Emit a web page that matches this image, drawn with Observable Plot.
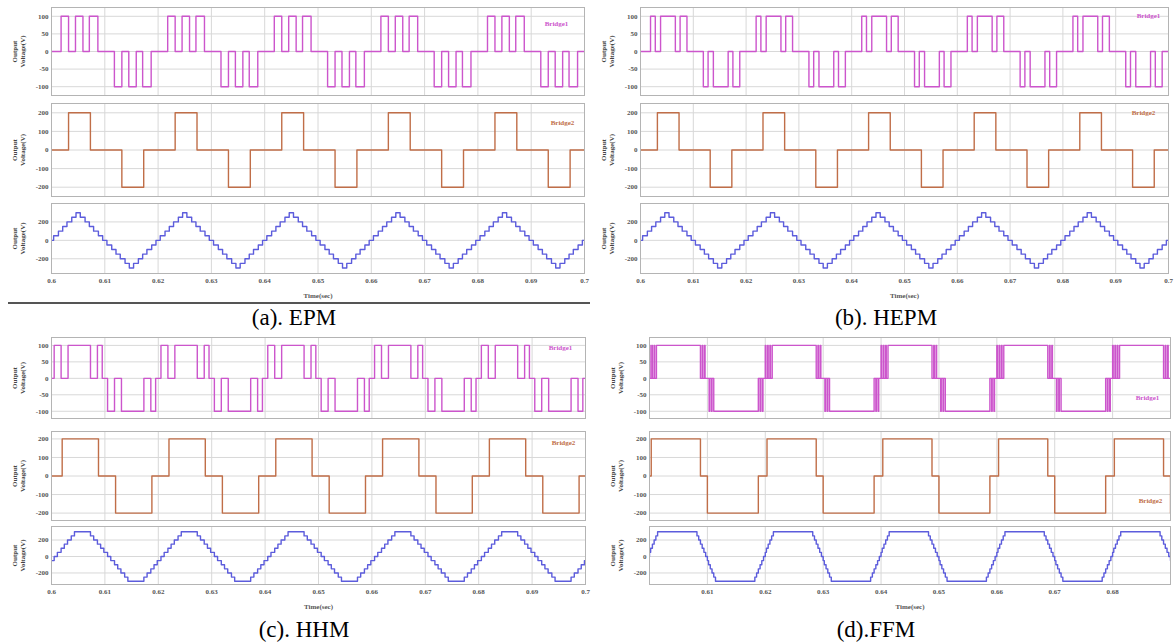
<!DOCTYPE html>
<html><head><meta charset="utf-8">
<script src="https://cdn.jsdelivr.net/npm/d3@7"></script>
<script src="https://cdn.jsdelivr.net/npm/@observablehq/plot@0.6"></script>
<style>
body{margin:0;background:#fff;}
#root{position:relative;width:1174px;height:644px;overflow:hidden;background:#fff;}
.cap{position:absolute;font-family:"Liberation Serif",serif;font-size:23px;color:#000;white-space:nowrap;transform:translate(-50%,-50%);}
.sep{position:absolute;height:0;border-top:2px solid #555;}
</style></head><body><div id="root"></div><script>
// ---- data ----
const period = 0.02, tStart = 0.6;
const xTicksFull = [0.6,0.61,0.62,0.63,0.64,0.65,0.66,0.67,0.68,0.69,0.7];
const xTicksFFM = [0.61,0.62,0.63,0.64,0.65,0.66,0.67,0.68];
const yTicksBridge1 = [-100,-50,0,50,100];
const yTicksBridge2 = [-200,-100,0,100,200];
const yTicksOutput = [-200,0,200];
const captions = ["(a). EPM","(b). HEPM","(c). HHM","(d).FFM"];
const legendNames = ["Bridge1","Bridge2"];

// one period of each waveform: switching instants (s, from 0.6 s) and levels (V)
const epmB1Times = [0,0.0018,0.0032,0.0045,0.0059,0.0071,0.0087,0.0118,0.0132,0.0145,0.0159,0.0171,0.0187];
const epmB1Levels = [0,100,0,100,0,100,0,-100,0,-100,0,-100,0];
const epmB2Times = [0,0.0032,0.0073,0.0132,0.0173];
const epmB2Levels = [0,200,0,-200,0];
const epmOutTimes = [-0.0004,0.0004,0.0013,0.0021,0.0029,0.0038,0.0046,0.0054,0.0063,0.0071,0.0079,0.0088,0.0096,0.0104,0.0113,0.0121,0.0129,0.0138,0.0146,0.0154,0.0163,0.0171,0.0179,0.0188];
const epmOutLevels = [0,50,100,150,200,250,300,250,200,150,100,50,0,-50,-100,-150,-200,-250,-300,-250,-200,-150,-100,-50];

const hepmB1Times = [0,0.0019,0.0028,0.0038,0.0066,0.0075,0.0088,0.0119,0.0128,0.0138,0.0166,0.0175,0.0188];
const hepmB1Levels = [0,100,0,100,0,100,0,-100,0,-100,0,-100,0];
const hepmB2Times = [0,0.0032,0.0073,0.0132,0.0173];
const hepmB2Levels = [0,200,0,-200,0];
const hepmOutTimes = [-0.0004,0.0004,0.0013,0.0021,0.0029,0.0038,0.0046,0.0054,0.0063,0.0071,0.0079,0.0088,0.0096,0.0104,0.0113,0.0121,0.0129,0.0138,0.0146,0.0154,0.0163,0.0171,0.0179,0.0188];
const hepmOutLevels = [0,50,100,150,200,250,300,250,200,150,100,50,0,-50,-100,-150,-200,-250,-300,-250,-200,-150,-100,-50];

const hhmB1Times = [0,0.0005,0.0018,0.0031,0.0073,0.0086,0.0095,0.0105,0.0118,0.0131,0.0173,0.0186,0.0195];
const hhmB1Levels = [0,100,0,100,0,100,0,-100,0,-100,0,-100,0];
const hhmB2Times = [0,0.0020,0.0088,0.0120,0.0188];
const hhmB2Levels = [0,200,0,-200,0];
const hhmOutTimes = [0.0043,0.0073,0.0079,0.0086,0.0092,0.0098,0.0105,0.0111,0.0118,0.0124,0.0130,0.0137,0.0143,0.0173,0.0179,0.0186,0.0192,0.0198,0.0205,0.0211,0.0218,0.0224,0.0230,0.0237];
const hhmOutLevels = [300,250,200,150,100,50,0,-50,-100,-150,-200,-250,-300,-250,-200,-150,-100,-50,0,50,100,150,200,250];

const ffmB1Times = [0,0.0001,0.0004,0.0005,0.0008,0.0009,0.0012,0.0088,0.0091,0.0092,0.0095,0.0096,0.0103,0.0104,0.0107,0.0108,0.0111,0.0188,0.0191,0.0192,0.0195,0.0196];
const ffmB1Levels = [100,0,100,0,100,0,100,0,100,0,100,0,-100,0,-100,0,-100,0,-100,0,-100,0];
const ffmB2Times = [0,0.0003,0.0088,0.0100,0.0188];
const ffmB2Levels = [0,200,0,-200,0];
const ffmOutTimes = [-0.0018,-0.0015,-0.0012,-0.0009,-0.0006,-0.0003,0.0000,0.0002,0.0005,0.0008,0.0011,0.0014,0.0082,0.0085,0.0088,0.0091,0.0094,0.0097,0.0100,0.0102,0.0105,0.0108,0.0111,0.0114];
const ffmOutLevels = [-250,-200,-150,-100,-50,0,50,100,150,200,250,300,250,200,150,100,50,0,-50,-100,-150,-200,-250,-300];

// ---- helpers ----
const root = document.getElementById("root");
function periodic(times, levels, tEnd) {
  const pts = [];
  for (let k = -1; tStart + k * period < tEnd + period; k++)
    times.forEach((t, i) => pts.push({t: tStart + k * period + t, v: levels[i]}));
  return pts;
}
const C1 = "#cc55cc", C2 = "#c06e48", C3 = "#5c5cdc";
const FONT = "Liberation Serif, Times New Roman, serif";

function sub(o) {
  const mL = 60, mR = 6, mT = 2, mB = o.showX ? 34 : 2;
  const marks = [
    Plot.gridX(o.xGrid, {stroke: "#d8d8d8", strokeOpacity: 1}),
    Plot.gridY(o.yTicks, {stroke: "#d8d8d8", strokeOpacity: 1}),
    Plot.line(o.data, {x: "t", y: "v", curve: "step-after", stroke: o.color, strokeWidth: 1.4, clip: true}),
    Plot.frame({stroke: "#b4b4b4"}),
    Plot.axisY(o.yTicks, {tickSize: 0, tickPadding: 3, fontSize: 7, fontWeight: "bold", fill: "#555", label: null, tickFormat: d => String(d)}),
    Plot.text(["Output\nVoltage(V)"], {frameAnchor: "left", dx: -33, rotate: -90, fontSize: 7, fontWeight: "bold", fill: "#444", lineHeight: 1.15, textAnchor: "middle", lineAnchor: "middle"})
  ];
  if (o.showX) {
    marks.push(Plot.axisX(o.xTicks, {tickSize: 0, tickPadding: 5, fontSize: 7, fontWeight: "bold", fill: "#555", label: null, tickFormat: d => String(d)}));
    marks.push(Plot.text(["Time(sec)"], {frameAnchor: "bottom", dy: 22, fontSize: 7, fontWeight: "bold", fill: "#555", textAnchor: "middle", lineAnchor: "middle"}));
  }
  if (o.legend) marks.push(Plot.text([o.legend], {frameAnchor: "top-right", dx: o.ldx, dy: o.ldy, fill: o.color, fontSize: 7, fontWeight: "bold", textAnchor: "middle", lineAnchor: "middle"}));
  const chart = Plot.plot({
    width: o.R - o.L + mL + mR, height: o.B - o.T + mT + mB,
    marginLeft: mL, marginRight: mR, marginTop: mT, marginBottom: mB,
    x: {domain: o.xDomain, axis: null},
    y: {domain: o.yDomain, axis: null},
    style: {fontFamily: FONT, background: "transparent", overflow: "visible"},
    marks
  });
  chart.style.position = "absolute";
  chart.style.left = (o.L - mL) + "px";
  chart.style.top = (o.T - mT) + "px";
  root.appendChild(chart);
}

function panel(p) {
  const rows = p.rows;
  sub({L: p.L, R: p.R, T: rows[0][0], B: rows[0][1], xDomain: p.xDomain, xGrid: p.xGrid, xTicks: p.xTicks, yDomain: rows[0][2], yTicks: yTicksBridge1,
       data: periodic(p.b1[0], p.b1[1], p.xDomain[1]), color: C1, legend: legendNames[0], ldx: p.leg1[0], ldy: p.leg1[1]});
  sub({L: p.L, R: p.R, T: rows[1][0], B: rows[1][1], xDomain: p.xDomain, xGrid: p.xGrid, xTicks: p.xTicks, yDomain: rows[1][2], yTicks: yTicksBridge2,
       data: periodic(p.b2[0], p.b2[1], p.xDomain[1]), color: C2, legend: legendNames[1], ldx: p.leg2[0], ldy: p.leg2[1]});
  sub({L: p.L, R: p.R, T: rows[2][0], B: rows[2][1], xDomain: p.xDomain, xGrid: p.xGrid, xTicks: p.xTicks, yDomain: rows[2][2], yTicks: yTicksOutput,
       data: periodic(p.out[0], p.out[1], p.xDomain[1]), color: C3, showX: true});
  const c = document.createElement("div");
  c.className = "cap"; c.textContent = p.caption;
  c.style.left = p.capX + "px"; c.style.top = p.capY + "px";
  root.appendChild(c);
}

const rowsTop = [[7, 95, [-125,125]], [103, 196, [-250,250]], [203, 273, [-360,400]]];
const rowsBot = [[337, 418, [-122,124]], [431, 520, [-240,240]], [526, 584, [-340,364]]];

panel({L: 51, R: 584, rows: rowsTop, xDomain: [0.6,0.7], xGrid: xTicksFull, xTicks: xTicksFull,
  b1: [epmB1Times, epmB1Levels], b2: [epmB2Times, epmB2Levels], out: [epmOutTimes, epmOutLevels],
  leg1: [-28, 16], leg2: [-22, 19], caption: captions[0], capX: 294, capY: 318});
panel({L: 640, R: 1168, rows: rowsTop, xDomain: [0.6,0.7], xGrid: xTicksFull, xTicks: xTicksFull,
  b1: [hepmB1Times, hepmB1Levels], b2: [hepmB2Times, hepmB2Levels], out: [hepmOutTimes, hepmOutLevels],
  leg1: [-20, 8], leg2: [-25, 9], caption: captions[1], capX: 886, capY: 318});
panel({L: 51, R: 585, rows: rowsBot, xDomain: [0.6,0.7], xGrid: xTicksFull, xTicks: xTicksFull,
  b1: [hhmB1Times, hhmB1Levels], b2: [hhmB2Times, hhmB2Levels], out: [hhmOutTimes, hhmOutLevels],
  leg1: [-25, 10], leg2: [-22, 11], caption: captions[2], capX: 304, capY: 630});
panel({L: 649, R: 1170, rows: rowsBot, xDomain: [0.6,0.69], xGrid: xTicksFFM, xTicks: xTicksFFM,
  b1: [ffmB1Times, ffmB1Levels], b2: [ffmB2Times, ffmB2Levels], out: [ffmOutTimes, ffmOutLevels],
  leg1: [-23, 60], leg2: [-20, 69], caption: captions[3], capX: 876, capY: 630});

const sep = document.createElement("div");
sep.className = "sep";
sep.style.left = "8px"; sep.style.top = "302px"; sep.style.width = "582px";
root.appendChild(sep);
</script></body></html>
